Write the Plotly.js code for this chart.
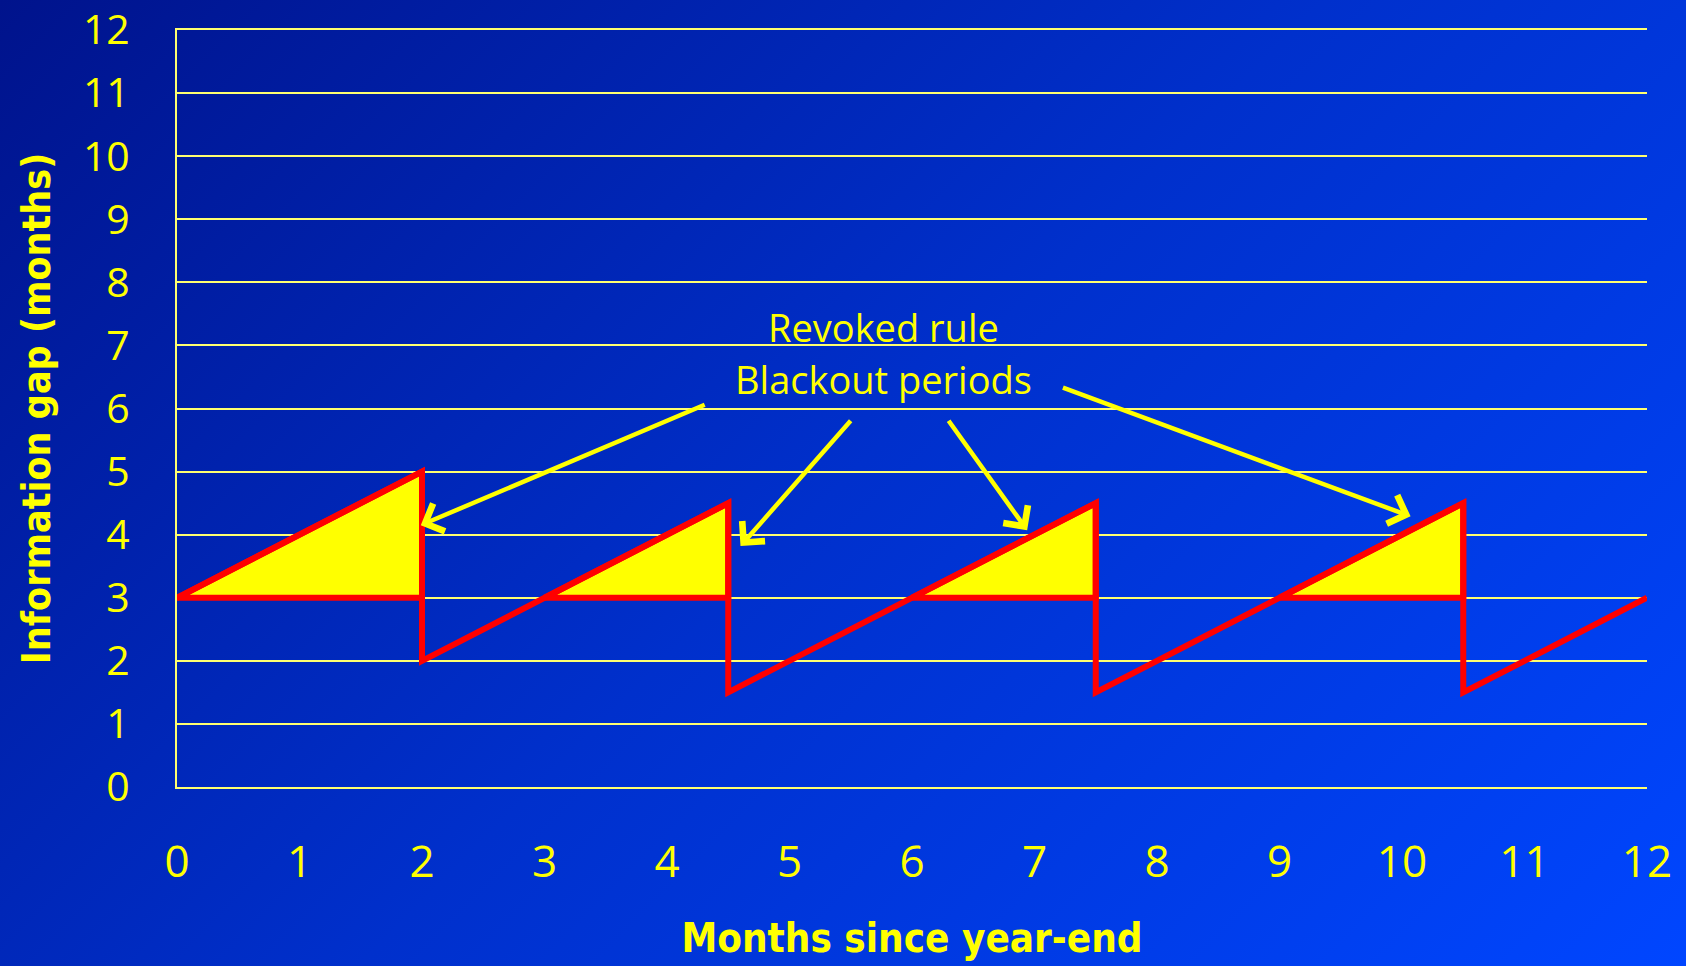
<!DOCTYPE html>
<html>
<head>
<meta charset="utf-8">
<script src="https://cdn.plot.ly/plotly-3.0.1.min.js"></script>
<style>
  html, body { margin: 0; padding: 0; }
  body { width: 1686px; height: 966px; background: linear-gradient(135deg, #00138c 0%, #0030cc 50%, #0046ff 100%); }
  #chart { width: 1686px; height: 966px; }
</style>
</head>
<body>
<div id="chart"></div>
<script>
// Sawtooth: information gap under the revoked rule
const gapX = [0, 2, 2, 4.5, 4.5, 7.5, 7.5, 10.5, 10.5, 12];
const gapY = [3, 5, 2, 4.5, 1.5, 4.5, 1.5, 4.5, 1.5, 3];

// Blackout periods (triangles above the 3-month gap)
const blackout1X = [0, 2, 2, 0];
const blackout1Y = [3, 5, 3, 3];
const blackout2X = [3, 4.5, 4.5, 3];
const blackout2Y = [3, 4.5, 3, 3];
const blackout3X = [6, 7.5, 7.5, 6];
const blackout3Y = [3, 4.5, 3, 3];
const blackout4X = [9, 10.5, 10.5, 9];
const blackout4Y = [3, 4.5, 3, 3];

// Tick labels
const xTicks = [0, 1, 2, 3, 4, 5, 6, 7, 8, 9, 10, 11, 12];
const yTicks = [0, 1, 2, 3, 4, 5, 6, 7, 8, 9, 10, 11, 12];

// Annotation arrows: [headX, headY, tailX, tailY]
const arrowHeads = [
  [1.99, 4.15, 4.32, 6.07],
  [4.6, 3.82, 5.51, 5.83],
  [6.94, 4.07, 6.29, 5.83],
  [10.07, 4.29, 7.22, 6.34]
];

const labelLine1 = "Revoked rule";
const labelLine2 = "Blackout periods";

const RED = '#ff0000';
const YEL = '#ffff00';
const GRID = '#ffff70';

function tri(xs, ys) {
  return {
    x: xs, y: ys, type: 'scatter', mode: 'lines',
    fill: 'toself', fillcolor: YEL,
    line: { color: RED, width: 6 },
    hoverinfo: 'skip', showlegend: false
  };
}

const traces = [
  tri(blackout1X, blackout1Y),
  tri(blackout2X, blackout2Y),
  tri(blackout3X, blackout3Y),
  tri(blackout4X, blackout4Y),
  {
    x: gapX, y: gapY, type: 'scatter', mode: 'lines',
    line: { color: RED, width: 6 },
    showlegend: false
  }
];

const annotations = arrowHeads.map(a => ({
  x: a[0], y: a[1], ax: a[2], ay: a[3],
  xref: 'x', yref: 'y', axref: 'x', ayref: 'y',
  text: '', showarrow: true,
  arrowhead: 4, arrowsize: 1.3, arrowwidth: 4.5, arrowcolor: YEL
}));

annotations.push({
  x: 5.77, y: 7.29, xref: 'x', yref: 'y', text: labelLine1, showarrow: false,
  font: { family: 'Open Sans, sans-serif', size: 38, color: YEL }
});
annotations.push({
  x: 5.77, y: 6.47, xref: 'x', yref: 'y', text: labelLine2, showarrow: false,
  font: { family: 'Open Sans, sans-serif', size: 38, color: YEL }
});

const layout = {
  width: 1686, height: 966,
  paper_bgcolor: 'rgba(0,0,0,0)',
  plot_bgcolor: 'rgba(0,0,0,0)',
  margin: { l: 177, r: 39, t: 30, b: 179 },
  showlegend: false,
  xaxis: {
    range: [0, 12], tickvals: xTicks, ticktext: xTicks.map(String),
    showgrid: false, zeroline: false,
    showline: true, mirror: true, linecolor: GRID, linewidth: 2, ticks: '',
    ticklabelstandoff: 35, ticklabeloverflow: 'allow',
    tickfont: { family: 'Open Sans, sans-serif', size: 44, color: YEL },
    title: {
      text: 'Months since year-end', standoff: 35,
      font: { family: 'DejaVu Sans Condensed, Liberation Sans Narrow, sans-serif', size: 40, color: YEL, weight: 'bold' }
    }
  },
  yaxis: {
    range: [0, 12], tickvals: yTicks, ticktext: yTicks.map(String),
    showgrid: true, gridcolor: GRID, gridwidth: 2,
    zeroline: false, showline: true, linecolor: GRID, linewidth: 2,
    ticks: '', ticklabelstandoff: 37, ticklabeloverflow: 'allow',
    tickfont: { family: 'Open Sans, sans-serif', size: 41, color: YEL },
    title: {
      text: 'Information gap (months)', standoff: 20,
      font: { family: 'DejaVu Sans Condensed, Liberation Sans Narrow, sans-serif', size: 39, color: YEL, weight: 'bold' }
    }
  },
  annotations: annotations
};

Plotly.newPlot('chart', traces, layout, { displayModeBar: false, staticPlot: true });
</script>
</body>
</html>
